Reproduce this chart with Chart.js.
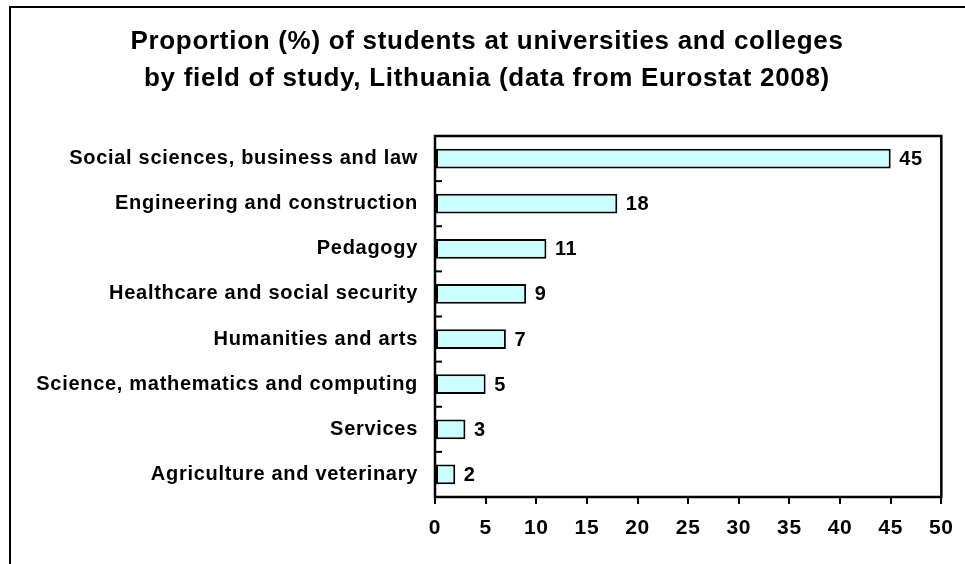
<!DOCTYPE html>
<html>
<head>
  <meta charset="utf-8" />
  <title>Students by field of study, Lithuania</title>
  <script src="https://cdn.jsdelivr.net/npm/chart.js"></script>
  <style>
    html, body {
      margin: 0;
      padding: 0;
      background: white;
    }
    #wrap {
      position: relative;
      width: 965px;
      height: 564px;
      overflow: hidden;
    }
    #frame {
      position: absolute;
      left: 9px;
      top: 6px;
      right: -10px;
      bottom: -10px;
      border-left: 2px solid #000;
      border-top: 2px solid #000;
    }
    canvas {
      position: absolute;
      left: 0;
      top: 0;
    }
  </style>
</head>
<body>

  <div id="wrap">
    <div id="frame"></div>
    <canvas id="fieldChart" width="965" height="564"></canvas>
  </div>

  <script>
    const fields = [
      'Social sciences, business and law',
      'Engineering and construction',
      'Pedagogy',
      'Healthcare and social security',
      'Humanities and arts',
      'Science, mathematics and computing',
      'Services',
      'Agriculture and veterinary'
    ];
    const shares = [45, 18, 11, 9, 7, 5, 3, 2];
    const xMin = 0;
    const xMax = 50;
    const xStep = 5;

    const FONT = '"Liberation Sans", Arial, sans-serif';
    Chart.defaults.font.family = FONT;
    Chart.defaults.color = '#000';

    // plot box, inner category ticks and the value next to each bar
    const plotFrame = {
      id: 'plotFrame',
      beforeDraw(chart) {
        chart.ctx.letterSpacing = '0.7px';
      },
      afterDatasetsDraw(chart) {
        const { ctx, chartArea: a } = chart;
        const yScale = chart.scales.y;
        ctx.save();
        ctx.strokeStyle = '#000';
        ctx.lineWidth = 2.5;
        ctx.strokeRect(a.left, a.top, a.right - a.left, a.bottom - a.top);

        ctx.lineWidth = 2;
        for (let i = 0; i < fields.length - 1; i++) {
          const py = (yScale.getPixelForTick(i) + yScale.getPixelForTick(i + 1)) / 2;
          ctx.beginPath();
          ctx.moveTo(a.left, py);
          ctx.lineTo(a.left + 7, py);
          ctx.stroke();
        }

        ctx.font = 'bold 20px ' + FONT;
        ctx.fillStyle = '#000';
        ctx.textAlign = 'left';
        ctx.textBaseline = 'middle';
        chart.getDatasetMeta(0).data.forEach((bar, i) => {
          ctx.fillText(String(shares[i]), bar.x + 8.5, bar.y + 1);
        });
        ctx.restore();
      }
    };

    new Chart(document.getElementById('fieldChart').getContext('2d'), {
      type: 'bar',
      data: {
        labels: fields,
        datasets: [{
          data: shares,
          backgroundColor: '#CCFFFF',
          borderColor: '#000',
          borderWidth: 2,
          borderSkipped: false,
          categoryPercentage: 1,
          barPercentage: 0.44
        }]
      },
      options: {
        indexAxis: 'y',
        responsive: false,
        animation: false,
        layout: {
          padding: { top: 0, right: 23, bottom: 0, left: 32 }
        },
        plugins: {
          legend: { display: false },
          tooltip: { enabled: false },
          title: {
            display: true,
            text: [
              'Proportion (%) of students at universities and colleges',
              'by field of study, Lithuania (data from Eurostat 2008)'
            ],
            color: '#000',
            font: { size: 26, weight: 'bold', lineHeight: 37 / 26 },
            padding: { top: 23.5, bottom: 38.5 }
          }
        },
        scales: {
          x: {
            min: xMin,
            max: xMax,
            afterFit(scale) { scale.height = 67; },
            border: { display: false },
            grid: {
              drawOnChartArea: false,
              drawTicks: true,
              tickLength: 7,
              color: '#000',
              lineWidth: 2
            },
            ticks: {
              stepSize: xStep,
              padding: 12,
              maxRotation: 0,
              font: { size: 21, weight: 'bold' }
            }
          },
          y: {
            afterFit(scale) { scale.width = 403; },
            border: { display: false },
            grid: { display: false, drawTicks: false },
            ticks: {
              padding: 17,
              font: { size: 20, weight: 'bold' }
            }
          }
        }
      },
      plugins: [plotFrame]
    });
  </script>

</body>
</html>
